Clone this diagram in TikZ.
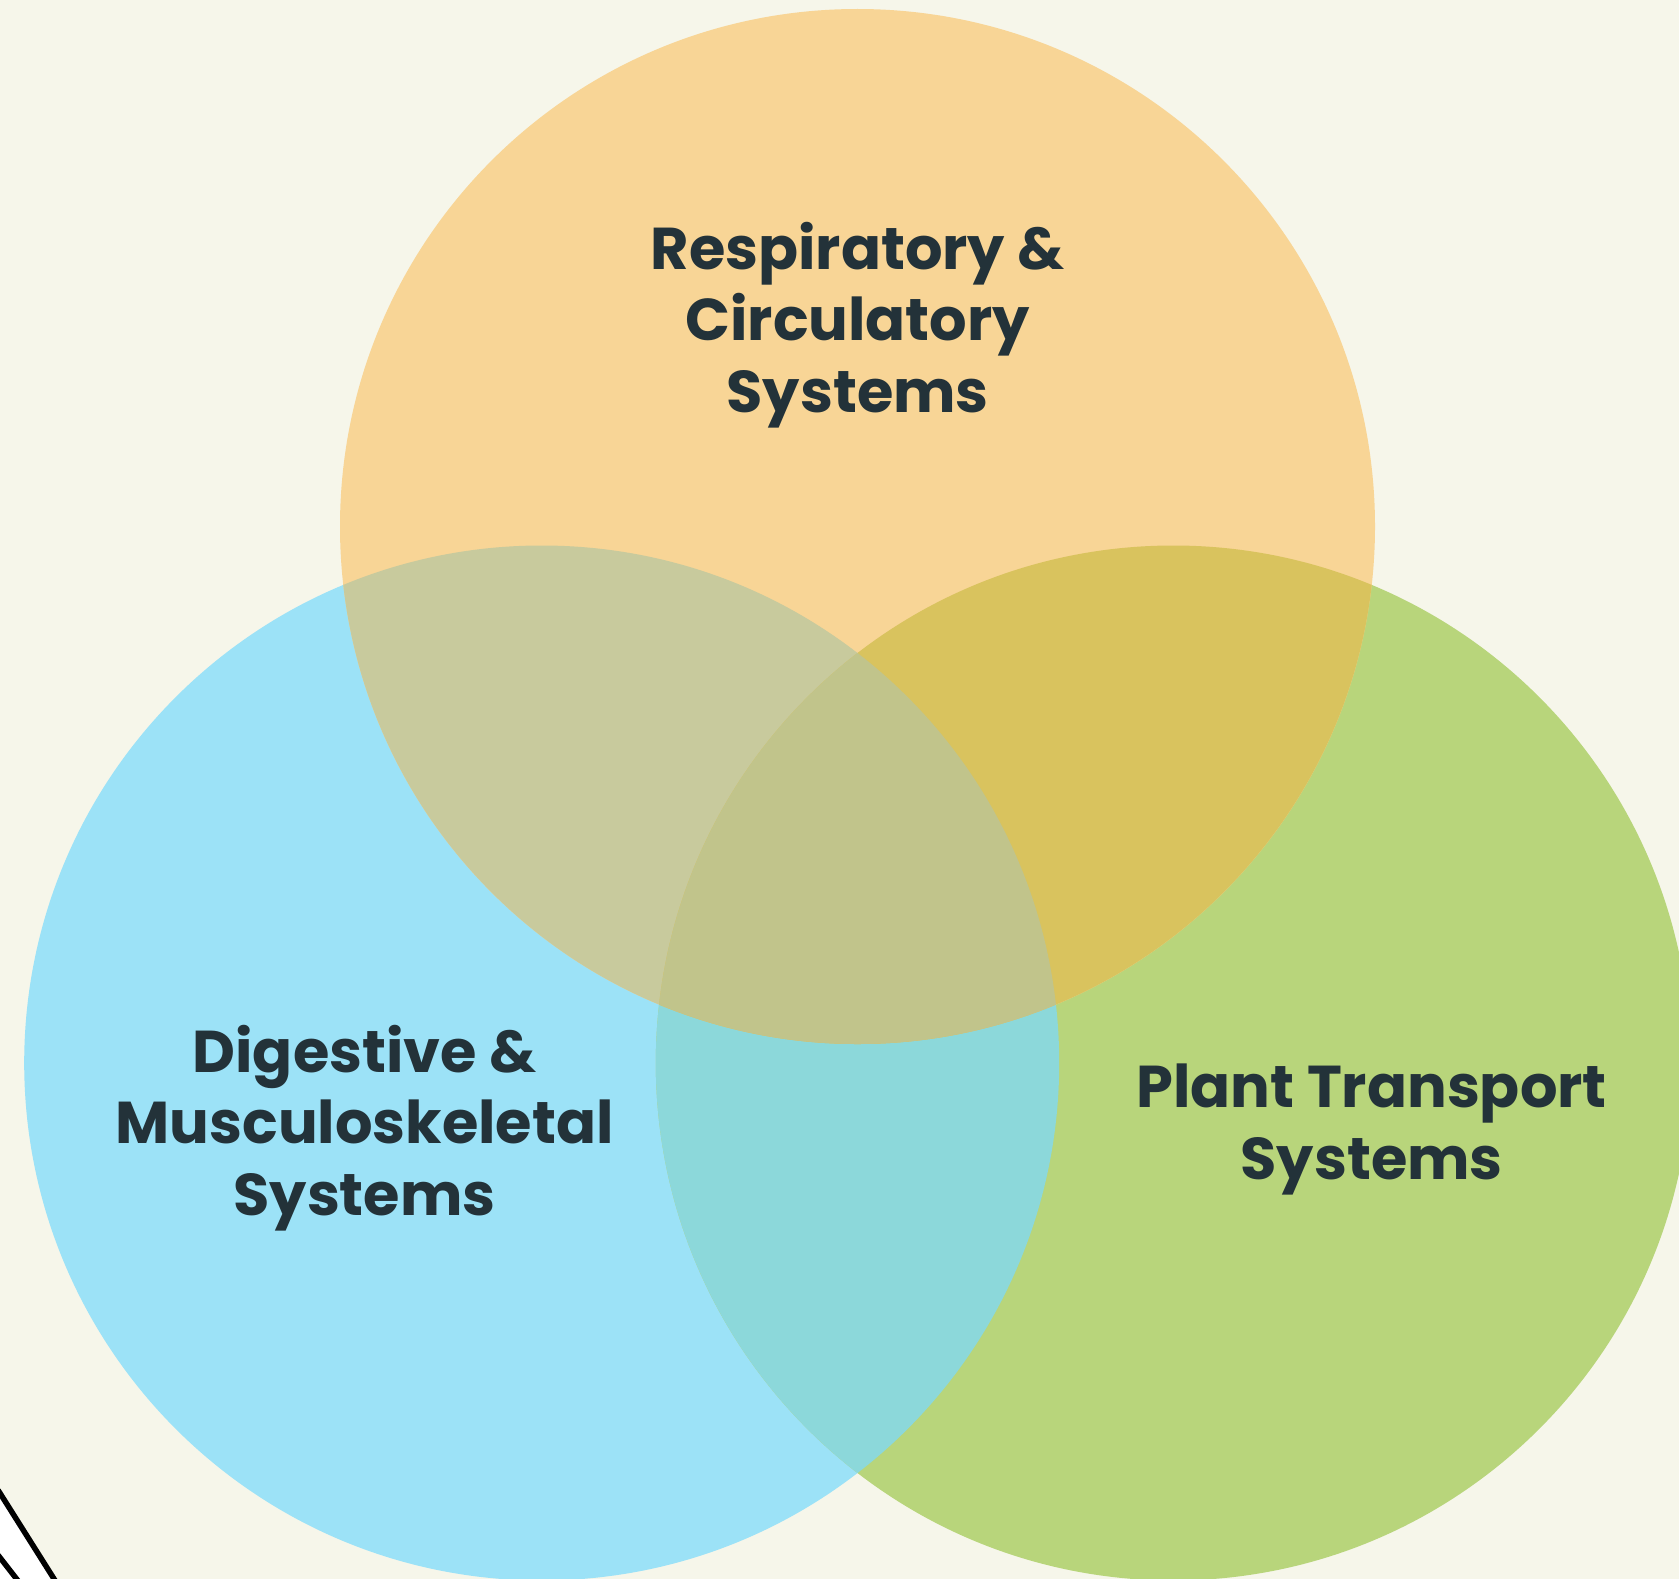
\documentclass[tikz,border=0pt]{standalone}
\usepackage{fontspec}
\setmainfont{Poppins}[BoldFont=* Bold]
\definecolor{bgc}{HTML}{F6F6EA}
\definecolor{corange}{HTML}{F8D596}
\definecolor{cblue}{HTML}{9CE2F7}
\definecolor{cgreen}{HTML}{B8D57B}
\definecolor{cob}{HTML}{C8CA9D}
\definecolor{cog}{HTML}{D9C35E}
\definecolor{cbg}{HTML}{8CD8DA}
\definecolor{ctri}{HTML}{C1C48B}
\definecolor{ctext}{HTML}{233239}
\tikzset{
  lbl/.style={text=ctext, align=center, inner sep=0pt,
    font=\fontsize{59}{71.5}\selectfont\bfseries},
}
\begin{document}
\begin{tikzpicture}[x=1pt,y=-1pt]
\useasboundingbox (0,0) rectangle (1679,1579);
\clip (0,0) rectangle (1679,1579);
\fill[bgc] (0,0) rectangle (1679,1579);
\coordinate (O) at (857.5,526.5);
\coordinate (B) at (541.7,1063);
\coordinate (G) at (1173.3,1063);
\def\R{517.5pt}
% base circles
\fill[cblue] (B) circle[radius=\R];
\fill[cgreen] (G) circle[radius=\R];
\fill[corange] (O) circle[radius=\R];
% pairwise overlaps
\begin{scope}
  \clip (B) circle[radius=\R];
  \fill[cbg] (G) circle[radius=\R];
\end{scope}
\begin{scope}
  \clip (O) circle[radius=\R];
  \fill[cob] (B) circle[radius=\R];
\end{scope}
\begin{scope}
  \clip (O) circle[radius=\R];
  \fill[cog] (G) circle[radius=\R];
\end{scope}
% triple overlap
\begin{scope}
  \clip (O) circle[radius=\R];
  \clip (B) circle[radius=\R];
  \fill[ctri] (G) circle[radius=\R];
\end{scope}
% decorative stroke at bottom-left corner
\fill[white] (0,1493) -- (55,1579) -- (0,1579) -- cycle;
\draw[black, line width=5.5pt] (-2,1490) -- (56,1582);
\draw[black, line width=5.5pt] (-2,1555) -- (19,1582);
% labels (anchor base = baseline of the last line)
\node[lbl, anchor=base] (tO) at (857.7,412) {Respiratory \&\\Circulatory\\Systems};
\node[lbl, anchor=base] (tB) at (364.6,1215) {Digestive \&\\Musculoskeletal\\Systems};
\node[lbl, anchor=base] (tG) at (1371.7,1179) {Plant Transport\\Systems};
\end{tikzpicture}
\end{document}
